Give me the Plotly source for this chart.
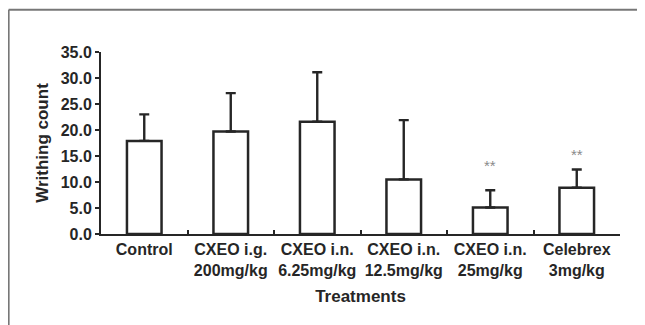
import plotly.graph_objects as go

categories = ["Control", "CXEO i.g.<br>200mg/kg", "CXEO i.n.<br>6.25mg/kg",
              "CXEO i.n.<br>12.5mg/kg", "CXEO i.n.<br>25mg/kg", "Celebrex<br>3mg/kg"]
means = [17.9, 19.7, 21.6, 10.5, 5.1, 8.9]
sds = [5.1, 7.4, 9.5, 11.4, 3.3, 3.5]
sig_marks = ["", "", "", "", "**", "**"]
y_ticks = [0, 5, 10, 15, 20, 25, 30, 35]

FONT = "Liberation Sans, Arial, sans-serif"
INK = "#262626"
FRAME = "#777777"

fig = go.Figure()
fig.add_trace(go.Bar(
    x=categories, y=means, width=0.4,
    marker=dict(color="white", line=dict(color=INK, width=2.5)),
    error_y=dict(type="data", symmetric=False, array=sds, arrayminus=[0]*len(sds),
                 color=INK, thickness=2.4, width=5),
    showlegend=False,
))

shifts = [0, 0, 0, 0, 14, 5]
for c, m, s, mark, sh in zip(categories, means, sds, sig_marks, shifts):
    if mark:
        fig.add_annotation(x=c, y=m + s, text=mark, showarrow=False, yanchor="bottom",
                           yshift=sh, font=dict(family=FONT, size=15, color="#8a8a8a"))

fig.update_layout(
    width=637, height=317,
    margin=dict(l=93, r=25, t=44, b=91, autoexpand=False),
    paper_bgcolor="white", plot_bgcolor="white",
    font=dict(family=FONT, color=INK),
    shapes=[
        dict(type="line", xref="paper", yref="paper", x0=-0.178, x1=1.1,
             y0=1.232, y1=1.232, line=dict(color=FRAME, width=2)),
        dict(type="line", xref="paper", yref="paper", x0=-0.178, x1=-0.178,
             y0=-0.6, y1=1.232, line=dict(color=FRAME, width=2)),
    ],
)
fig.update_xaxes(
    range=[-0.5, 5.5], showline=True, linecolor=INK, linewidth=2,
    ticks="inside", ticklen=4, tickcolor=INK, tickwidth=1.5, tickson="boundaries",
    tickangle=0,
    tickfont=dict(family=FONT, size=16, color=INK, weight="bold"),
    title=dict(text="<b>Treatments</b>", font=dict(family=FONT, size=17, color=INK), standoff=12),
    showgrid=False, zeroline=False, automargin=False,
)
fig.update_yaxes(
    range=[0, 35], tickvals=y_ticks, ticktext=[f"{v:.1f}" for v in y_ticks],
    showline=True, linecolor=INK, linewidth=2,
    ticks="outside", ticklen=4, tickcolor=INK, tickwidth=1.5,
    tickfont=dict(family=FONT, size=16, color=INK, weight="bold"),
    title=dict(text="<b>Writhing count</b>", font=dict(family=FONT, size=17, color=INK), standoff=8),
    showgrid=False, zeroline=False, automargin=False,
)
fig.write_html("out.html")
